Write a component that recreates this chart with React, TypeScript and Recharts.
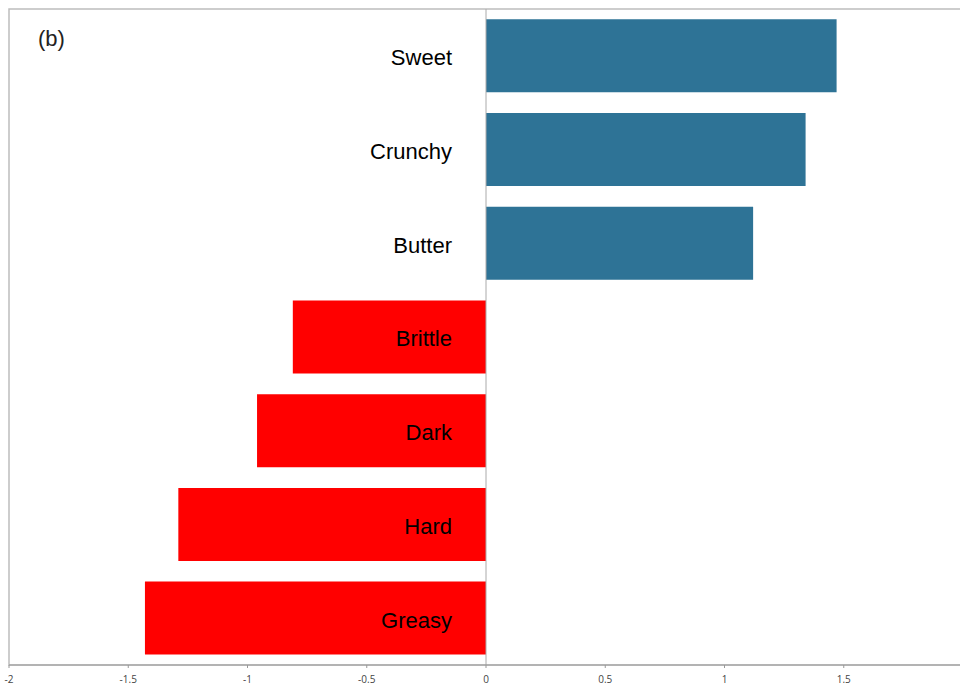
import React from "react";
import { BarChart, Bar, XAxis, YAxis, Cell, LabelList, ReferenceLine, ReferenceArea } from "recharts";

const attributes = ["Sweet", "Crunchy", "Butter", "Brittle", "Dark", "Hard", "Greasy"];
const scores = [1.47, 1.34, 1.12, -0.81, -0.96, -1.29, -1.43];
const xTicks = [-2, -1.5, -1, -0.5, 0, 0.5, 1, 1.5, 2];

const POS_COLOR = "#2E7396";
const NEG_COLOR = "#FF0000";

const data = attributes.map((name, i) => ({ name, score: scores[i] }));

const NameLabel = (props: any) => {
  const { x, y, width, height, value, index } = props;
  const zeroX = scores[index] >= 0 ? Number(x) : Math.max(Number(x), Number(x) + Number(width));
  return (
    <text
      x={zeroX - 34}
      y={Number(y) + Number(height) / 2 + 2}
      textAnchor="end"
      dominantBaseline="central"
      fill="#000"
      fontSize={22}
      fontFamily="'Liberation Sans', Arial, sans-serif"
    >
      {value}
    </text>
  );
};

export default function App() {
  return (
    <div style={{ position: "absolute", left: 0, top: 0, width: 960, height: 688, overflow: "hidden", background: "#fff" }}>
      <div
        style={{
          position: "absolute",
          left: 38,
          top: 26,
          fontSize: 22,
          fontFamily: "'Liberation Sans', Arial, sans-serif",
          color: "#222",
        }}
      >
        (b)
      </div>
      <BarChart
        width={972}
        height={688}
        data={data}
        layout="vertical"
        barCategoryGap="11%"
        margin={{ top: 9, right: 9, left: 9, bottom: 0 }}
      >
        <ReferenceArea x1={-2} x2={2} fill="none" stroke="#bdbdbd" strokeWidth={1.5} ifOverflow="visible" />
        <XAxis
          type="number"
          domain={[-2, 2]}
          ticks={xTicks}
          height={23}
          stroke="#999"
          tickSize={3}
          tick={{ fontSize: 10, fill: "#444", fontFamily: "'Open Sans', sans-serif" }}
          tickLine={{ stroke: "#999" }}
          tickFormatter={(v: number) => String(v)}
          tickMargin={8}
        />
        <YAxis type="category" dataKey="name" hide />
        <ReferenceLine x={0} stroke="#aaa" strokeWidth={1} />
        <Bar dataKey="score" isAnimationActive={false}>
          {data.map((d) => (
            <Cell key={d.name} fill={d.score >= 0 ? POS_COLOR : NEG_COLOR} />
          ))}
          <LabelList dataKey="name" content={<NameLabel />} />
        </Bar>
      </BarChart>
    </div>
  );
}
